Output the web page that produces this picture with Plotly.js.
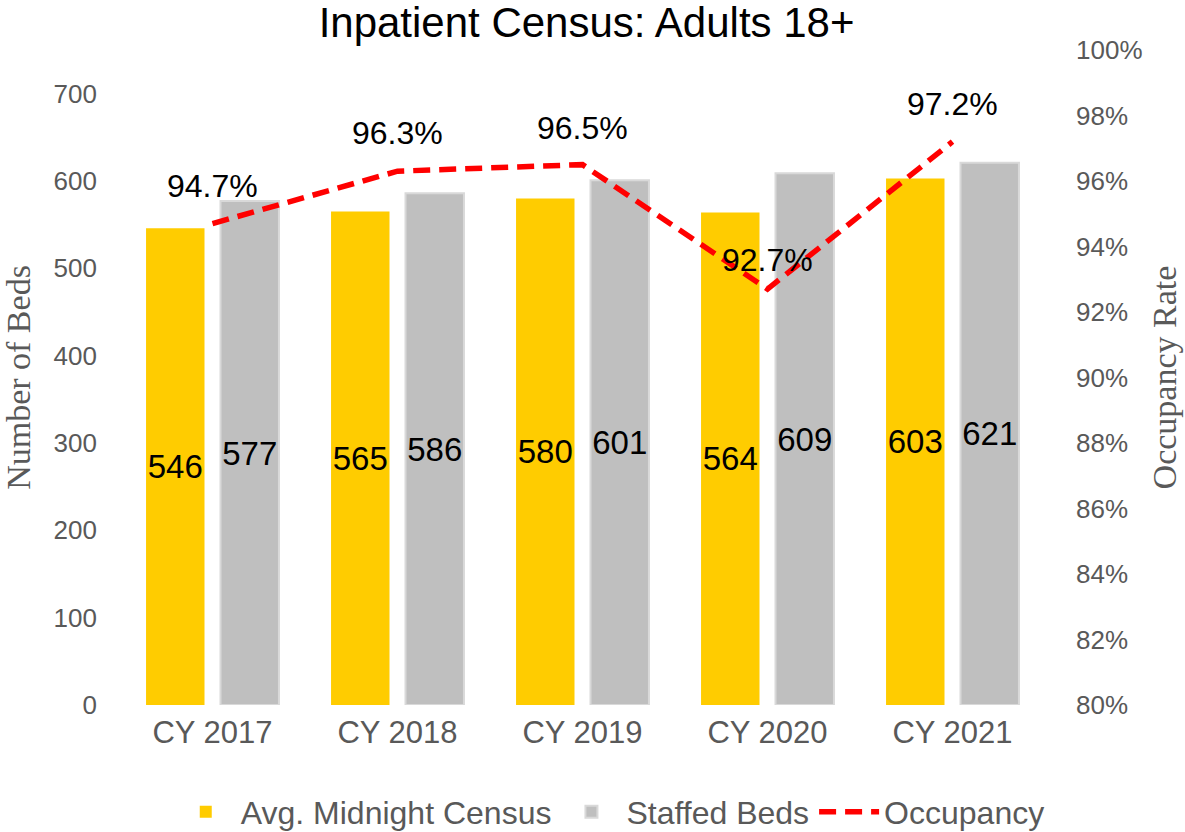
<!DOCTYPE html>
<html>
<head>
<meta charset="utf-8">
<script src="https://cdn.plot.ly/plotly-3.0.1.min.js"></script>
<style>html,body{margin:0;padding:0;background:#fff;}#chart{width:1185px;height:832px;}</style>
</head>
<body>
<div id="chart"></div>
<script>
const categories = ["CY 2017", "CY 2018", "CY 2019", "CY 2020", "CY 2021"];
const avgMidnightCensus = [546, 565, 580, 564, 603];
const staffedBeds = [577, 586, 601, 609, 621];
const occupancy = [0.947, 0.963, 0.965, 0.927, 0.972];
const occupancyLabels = ["94.7%", "96.3%", "96.5%", "92.7%", "97.2%"];

const tickGray = "#595959";
const sans = "Arial, Liberation Sans, sans-serif";
const serif = "Times New Roman, Liberation Serif, serif";
const labelLift = [38, 38, 37, 29, 38];

const traces = [
  {
    type: "bar", name: "Avg. Midnight Census", x: categories, y: avgMidnightCensus,
    marker: {color: "#ffcc00"},
    text: avgMidnightCensus.map(String), textposition: "inside", insidetextanchor: "middle",
    textangle: 0, constraintext: "none", cliponaxis: false,
    textfont: {family: sans, size: 33, color: "#000"},
    hoverinfo: "x+y"
  },
  {
    type: "bar", name: "Staffed Beds", x: categories, y: staffedBeds,
    marker: {color: "#bfbfbf", line: {color: "#d9d9d9", width: 2}},
    text: staffedBeds.map(String), textposition: "inside", insidetextanchor: "middle",
    textangle: 0, constraintext: "none", cliponaxis: false,
    textfont: {family: sans, size: 33, color: "#000"},
    hoverinfo: "x+y"
  },
  {
    type: "scatter", mode: "lines", name: "Occupancy", x: categories, y: occupancy,
    yaxis: "y2",
    line: {color: "#ff0000", width: 5.5, dash: "17px,9px"},
    cliponaxis: false
  }
];

const annotations = categories.map((c, i) => ({
  x: c, y: occupancy[i], xref: "x", yref: "y2",
  text: occupancyLabels[i], showarrow: false,
  yshift: labelLift[i], xanchor: "center", yanchor: "middle",
  font: {family: sans, size: 32, color: "#000"}
}));

const layout = {
  width: 1185, height: 832,
  paper_bgcolor: "#fff", plot_bgcolor: "#fff",
  margin: {l: 120, r: 140, t: 50, b: 127},
  title: {text: "Inpatient Census: Adults 18+", x: 0.495, xanchor: "center", y: 0.973, yanchor: "middle",
          font: {family: sans, size: 42, color: "#000"}},
  barmode: "group", bargap: 0.195, bargroupgap: 0.215,
  showlegend: true,
  legend: {orientation: "h", x: 0.53, xanchor: "center", yref: "container", y: 0.024, yanchor: "middle",
           font: {family: sans, size: 32, color: tickGray},
           traceorder: "normal", itemwidth: 60},
  annotations: annotations,
  xaxis: {
    type: "category", showline: false, ticks: "", showgrid: false, zeroline: false,
    tickfont: {family: sans, size: 31, color: tickGray}, ticklabelstandoff: 6
  },
  yaxis: {
    range: [0, 750], tickvals: [0,100,200,300,400,500,600,700], showgrid: false, zeroline: false,
    showline: false, ticks: "", ticklabelstandoff: 22,
    tickfont: {family: sans, size: 26, color: tickGray},
    title: {text: "Number of Beds", standoff: 14,
            font: {family: serif, size: 34, color: tickGray}}
  },
  yaxis2: {
    overlaying: "y", side: "right", range: [0.8, 1.0], dtick: 0.02, tickformat: ".0%",
    showgrid: false, zeroline: false, showline: false, ticks: "", ticklabelstandoff: 30,
    tickfont: {family: sans, size: 26, color: tickGray},
    title: {text: "Occupancy Rate", standoff: 10,
            font: {family: serif, size: 34, color: tickGray}}
  }
};

Plotly.newPlot("chart", traces, layout, {displayModeBar: false, responsive: false});
</script>
</body>
</html>
